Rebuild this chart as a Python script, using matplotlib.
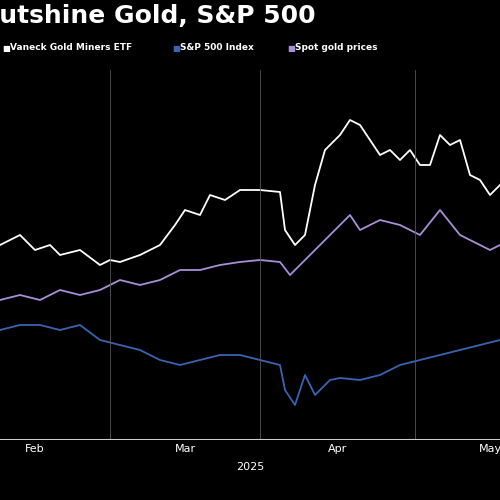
import matplotlib
matplotlib.use("Agg")
import matplotlib.pyplot as plt

# x in pixel-like day scale, values as relative levels
gdx_x = [0,10,20,35,50,60,80,100,110,120,140,160,175,185,200,210,225,240,260,280,285,295,305,315,325,340,350,360,370,380,390,400,410,420,430,440,450,460,470,480,490,500]
gdx_y = [245,240,235,250,245,255,250,265,260,262,255,245,225,210,215,195,200,190,190,192,230,245,235,185,150,135,120,125,140,155,150,160,150,165,165,135,145,140,175,180,195,185]
gold_x = [0,20,40,60,80,100,120,140,160,180,200,220,240,260,280,290,300,320,340,350,360,380,400,420,440,460,480,490,500]
gold_y = [300,295,300,290,295,290,280,285,280,270,270,265,262,260,262,275,265,245,225,215,230,220,225,235,210,235,245,250,245]
spx_x = [0,20,40,60,80,100,120,140,160,180,200,220,240,260,280,285,295,305,315,330,340,360,380,400,420,440,460,480,500]
spx_y = [330,325,325,330,325,340,345,350,360,365,360,355,355,360,365,390,405,375,395,380,378,380,375,365,360,355,350,345,340]
tick_pos = [35,185,338,490]
tick_labels = ["Feb","Mar","Apr","May"]

fig = plt.figure(figsize=(5,5), dpi=100, facecolor="black")
ax = fig.add_axes([0, 60/500, 1, 370/500], facecolor="black")
def v(p): return [440-q for q in p]
ax.plot(spx_x, v(spx_y), color="#3a64b0", lw=1.3)
ax.plot(gold_x, v(gold_y), color="#a98fd8", lw=1.3)
ax.plot(gdx_x, v(gdx_y), color="white", lw=1.3)
ax.set_xlim(0,500); ax.set_ylim(0,370)
for x in [110,260,415]:
    ax.axvline(x, color="#555555", lw=0.6)
for s in ax.spines.values(): s.set_visible(False)
ax.axhline(0, color="#cccccc", lw=1.5)
ax.set_yticks([])
ax.set_xticks(tick_pos); ax.set_xticklabels(tick_labels, color="white", fontsize=8)
ax.tick_params(axis="x", length=0, pad=3)
fig.text(250/500, 1-467/500, "2025", color="white", fontsize=8, ha="center", va="center")
fig.text(-0.045, 1-16/500, "Outshine Gold, S&P 500", color="white", fontsize=18, fontweight="bold", va="center")
items = [("Vaneck Gold Miners ETF","white",2),("S&P 500 Index","#3a64b0",172),("Spot gold prices","#a98fd8",287)]
for lab,c,x in items:
    fig.text(x/500, 1-48/500, "\u25A0", color=c, fontsize=6, va="center")
    fig.text((x+8)/500, 1-48/500, lab, color="white", fontsize=6.5, fontweight="bold", va="center")
fig.savefig("out.png", dpi=100, facecolor="black")
